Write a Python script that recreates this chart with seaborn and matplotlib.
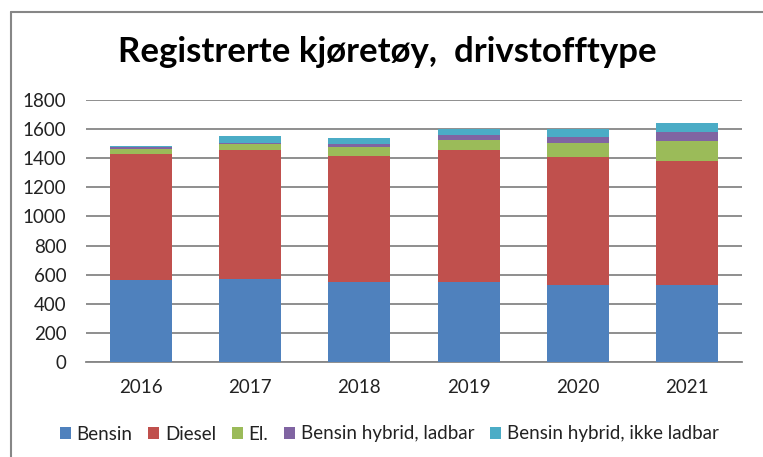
import matplotlib
matplotlib.use('Agg')
import matplotlib.pyplot as plt
from matplotlib.patches import Patch
from matplotlib.lines import Line2D
import numpy as np
import pandas as pd
import seaborn as sns

# Data
years = ['2016', '2017', '2018', '2019', '2020', '2021']
bensin = [563, 570, 549, 549, 526, 526]
diesel = [869, 889, 867, 908, 883, 855]
el = [34, 41, 62, 69, 97, 138]
hybrid_ladbar = [10, 4, 23, 35, 41, 62]
hybrid_ikke_ladbar = [11, 49, 41, 41, 55, 58]

series_names = ['Bensin', 'Diesel', 'El.', 'Bensin hybrid, ladbar', 'Bensin hybrid, ikke ladbar']
series_values = [bensin, diesel, el, hybrid_ladbar, hybrid_ikke_ladbar]
colors = ['#4F81BD', '#C0504D', '#9BBB59', '#8064A2', '#4BACC6']

sns.set_style('white')
plt.rcParams['font.family'] = ['Lato', 'DejaVu Sans']

fig = plt.figure(figsize=(7.63, 4.57), dpi=100)
ax = fig.add_axes([86 / 763, 1 - 362 / 457, 656 / 763, 262 / 457])

# Stacked bars: draw cumulative totals from the top series down
cum = np.cumsum(np.array(series_values), axis=0)
for i in range(len(series_names) - 1, -1, -1):
    df = pd.DataFrame({'year': years, 'value': cum[i]})
    sns.barplot(data=df, x='year', y='value', color=colors[i], width=0.57,
                linewidth=0, saturation=1, ax=ax, zorder=3)

ax.set_ylim(0, 1800)
ax.set_yticks(range(0, 1801, 200))
ax.set_xlabel('')
ax.set_ylabel('')
ax.yaxis.grid(True, color='#868686', linewidth=1.3, zorder=0)
ax.set_axisbelow(True)
for side in ['left', 'right', 'top']:
    ax.spines[side].set_visible(False)
ax.spines['bottom'].set_color('#868686')
ax.spines['bottom'].set_linewidth(1.3)
ax.tick_params(axis='both', length=0, labelsize=13.5, colors='#222222')
ax.tick_params(axis='y', pad=14)
ax.tick_params(axis='x', pad=12)

# Title
fig.text(0.507, 1 - 52 / 457, 'Registrerte kjøretøy,  drivstofftype',
         ha='center', va='center', fontsize=25, fontweight='bold', color='black')

# Legend
handles = [Patch(facecolor=c, edgecolor='none') for c in colors]
fig.legend(handles, series_names, loc='center', bbox_to_anchor=(0.51, 1 - 434 / 457),
           ncol=5, frameon=False, fontsize=13.5, handlelength=0.6, handleheight=0.6,
           handletextpad=0.3, columnspacing=0.83, labelcolor='#222222')

# Outer chart frame (left and top edges visible)
fig.add_artist(Line2D([11 / 763, 11 / 763], [0, 1 - 12 / 457], transform=fig.transFigure,
                      color='#868686', linewidth=1.5))
fig.add_artist(Line2D([11 / 763, 1], [1 - 12 / 457, 1 - 12 / 457], transform=fig.transFigure,
                      color='#868686', linewidth=1.5))

plt.savefig('out.png', dpi=100)
